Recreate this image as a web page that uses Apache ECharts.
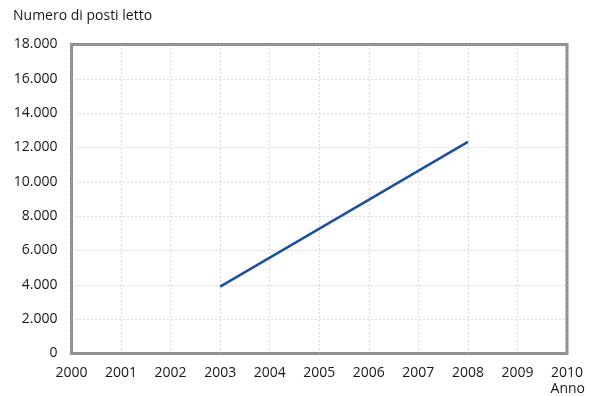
<!DOCTYPE html>
<html>
<head>
<meta charset="utf-8">
<script src="https://cdn.jsdelivr.net/npm/echarts@6/dist/echarts.min.js"></script>
<style>html,body{margin:0;padding:0;background:#fff;}#c{width:589px;height:396px;}</style>
</head>
<body>
<div id="c"></div>
<script>
var years = [2003, 2008];
var beds = [3900, 12330];
var yTitle = 'Numero di posti letto';
var xTitle = 'Anno';

var data = years.map(function (y, i) { return [y, beds[i]]; });
var chart = echarts.init(document.getElementById('c'));
var font = '"Open Sans", "Noto Sans", sans-serif';
chart.setOption({
  animation: false,
  grid: { left: 71.5, right: 22, top: 44.5, bottom: 42.5, show: true, borderColor: '#8e8e8e', borderWidth: 3, backgroundColor: 'transparent' },
  graphic: [
    { type: 'text', left: 13, top: 9, style: { text: yTitle, font: '14px ' + font, fill: '#1a1718' } },
    { type: 'text', right: 4, top: 382, style: { text: xTitle, font: '14px ' + font, fill: '#1a1718' } }
  ],
  xAxis: {
    type: 'value', min: 2000, max: 2010, interval: 1,
    axisLine: { show: false }, axisTick: { show: false },
    axisLabel: { margin: 13, color: '#1a1718', fontSize: 14, fontFamily: font, formatter: function (v) { return String(v); } },
    splitLine: { show: true, lineStyle: { type: [1, 3], color: '#b5b5b5', width: 1 } }
  },
  yAxis: {
    type: 'value', min: 0, max: 18000, interval: 2000,
    axisLine: { show: false }, axisTick: { show: false },
    axisLabel: { margin: 14, color: '#1a1718', fontSize: 14, fontFamily: font, formatter: function (v) { return v === 0 ? '0' : (v / 1000).toFixed(0) + '.000'; } },
    splitLine: { show: true, lineStyle: { type: [1, 3], color: '#b5b5b5', width: 1 } }
  },
  series: [{
    type: 'line', data: data, showSymbol: false, symbol: 'none',
    lineStyle: { color: '#1d4f9f', width: 2.5 }
  }]
});
</script>
</body>
</html>
